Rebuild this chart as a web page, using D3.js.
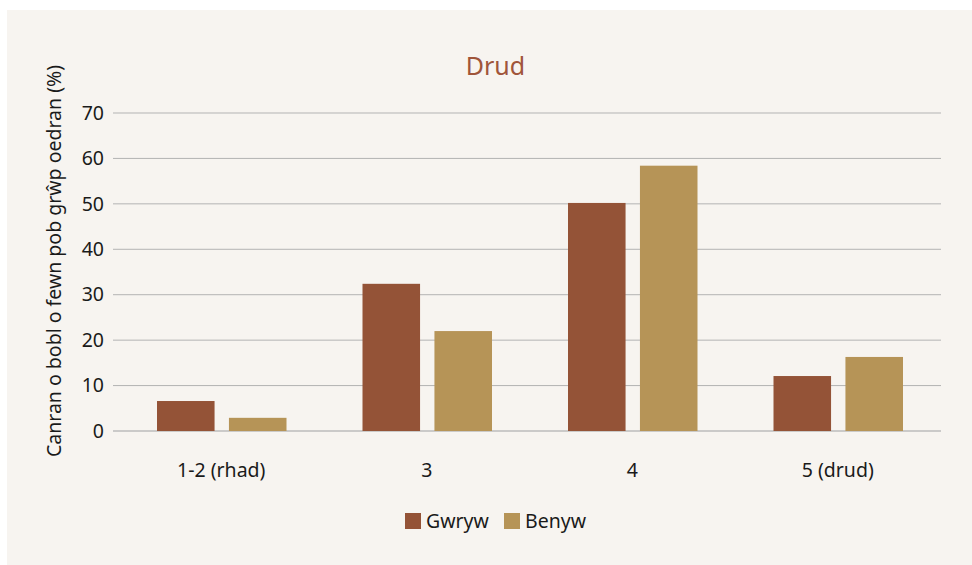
<!DOCTYPE html>
<html>
<head>
<meta charset="utf-8">
<script src="https://cdn.jsdelivr.net/npm/d3@7"></script>
<style>
  body { margin: 0; background: #ffffff; }
  svg text { font-family: "Noto Sans", "Open Sans", sans-serif; }
</style>
</head>
<body>
<div id="chart"></div>
<script>
// categories and series
const categories = ["1-2 (rhad)", "3", "4", "5 (drud)"];
const seriesNames = ["Gwryw", "Benyw"];
const gwryw = [6.6, 32.4, 50.2, 12.1];
const benyw = [2.9, 22.0, 58.4, 16.3];
const yTicks = [0, 10, 20, 30, 40, 50, 60, 70];
const colors = ["#945337", "#b69457"];

const W = 972, H = 565;
const svg = d3.select("#chart").append("svg")
    .attr("width", W)
    .attr("height", H);

// panel background
svg.append("rect")
    .attr("x", 7).attr("y", 10)
    .attr("width", W - 7).attr("height", H - 10)
    .attr("fill", "#f7f4f0");

const y = d3.scaleLinear().domain([0, 70]).range([431, 113]);
const x0 = d3.scaleBand().domain(categories).range([118.5, 940.5]);
const x1 = d3.scaleBand().domain(seriesNames).range([38.5, 168]).paddingInner(0.2);

// gridlines
svg.append("g")
    .selectAll("line")
    .data(yTicks)
    .enter().append("line")
    .attr("x1", 113).attr("x2", 941)
    .attr("y1", d => y(d)).attr("y2", d => y(d))
    .attr("stroke", d => d === 0 ? "#bdbdbd" : "#b3b3b3")
    .attr("stroke-width", d => d === 0 ? 1.5 : 1);

// y axis labels
const yAxis = svg.append("g")
    .attr("transform", "translate(104,0)")
    .call(d3.axisLeft(y).tickValues(yTicks).tickSize(0).tickPadding(0));
yAxis.select(".domain").remove();
yAxis.selectAll("text")
    .attr("font-size", 19.5)
    .attr("fill", "#1a1a1a")
    .style("font-family", "'Noto Sans', 'Open Sans', sans-serif");

// bars
const data = categories.map((c, i) => ({ cat: c, values: [gwryw[i], benyw[i]] }));
const groups = svg.append("g")
    .selectAll("g")
    .data(data)
    .enter().append("g")
    .attr("transform", d => `translate(${x0(d.cat)},0)`);

groups.selectAll("rect")
    .data(d => d.values.map((v, j) => ({ key: seriesNames[j], value: v, j: j })))
    .enter().append("rect")
    .attr("x", d => x1(d.key))
    .attr("width", x1.bandwidth())
    .attr("y", d => y(d.value))
    .attr("height", d => y(0) - y(d.value))
    .attr("fill", d => colors[d.j]);

// x axis labels
const xAxis = svg.append("g")
    .attr("transform", "translate(0,477)")
    .call(d3.axisBottom(x0).tickSize(0).tickPadding(0));
xAxis.select(".domain").remove();
xAxis.selectAll("text")
    .attr("font-size", 19.5)
    .attr("fill", "#1a1a1a")
    .attr("dy", 0)
    .style("font-family", "'Noto Sans', 'Open Sans', sans-serif");

// title
svg.append("text")
    .attr("x", 495.5).attr("y", 75)
    .attr("text-anchor", "middle")
    .attr("font-size", 25)
    .attr("fill", "#a0553a")
    .text("Drud");

// y axis title
svg.append("text")
    .attr("transform", "translate(61,261) rotate(-90)")
    .attr("text-anchor", "middle")
    .attr("font-size", 19.5)
    .attr("fill", "#1a1a1a")
    .text("Canran o bobl o fewn pob grŵp oedran (%)");

// legend
const legend = svg.append("g");
const legendX = [405, 504];
seriesNames.forEach((name, i) => {
    legend.append("rect")
        .attr("x", legendX[i]).attr("y", 513)
        .attr("width", 16).attr("height", 16)
        .attr("fill", colors[i]);
    legend.append("text")
        .attr("x", legendX[i] + 21).attr("y", 528)
        .attr("font-size", 19.5)
        .attr("fill", "#1a1a1a")
        .text(name);
});
</script>
</body>
</html>
